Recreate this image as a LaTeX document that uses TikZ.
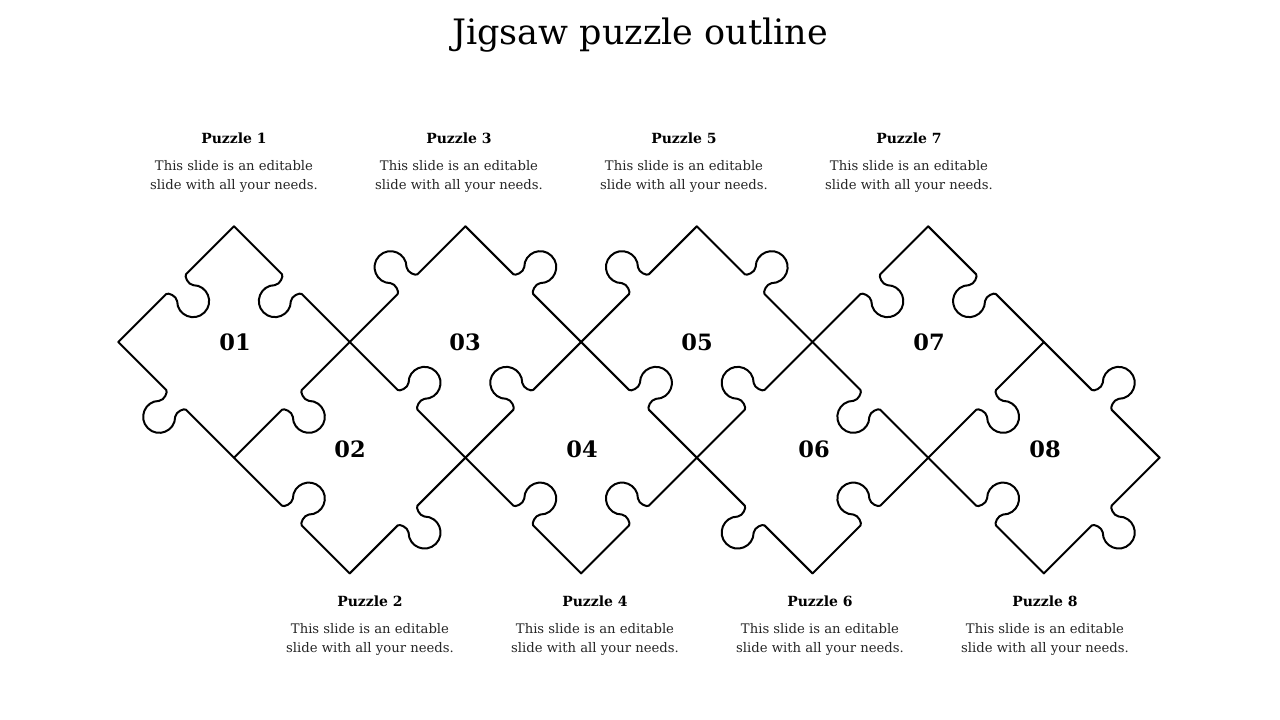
\documentclass[tikz,border=0pt]{standalone}
\usepackage{fontspec}
\setmainfont{DejaVu Serif}
\newcommand{\pzedge}[4]{%
  \begin{scope}[shift={(#1,#2)}, rotate=#3]
    \def\k{#4}
    \draw[puz] (0,0) -- (67.8,0) .. controls (70.3,0) and (73.8,\k*8.5) .. (70.5,\k*12.7)
      .. controls (60.4,\k*22.8) and (67.55,\k*40) .. (81.8,\k*40)
      .. controls (96.05,\k*40) and (103.2,\k*22.8) .. (93.1,\k*12.7)
      .. controls (89.8,\k*8.5) and (93.3,0) .. (95.8,0) -- (163.6,0);
  \end{scope}}
\begin{document}
\begin{tikzpicture}[x=1pt,y=-1pt,
  puz/.style={line width=2pt, line join=round, line cap=round, black},
  ttl/.style={font=\fontsize{35}{40}\selectfont, anchor=base, inner sep=0pt},
  phead/.style={font=\bfseries\fontsize{14}{16}\selectfont, anchor=base, inner sep=0pt},
  pbody/.style={font=\fontsize{13.2}{16}\selectfont, anchor=base, inner sep=0pt, text=black!85},
  pnum/.style={font=\bfseries\fontsize{22.5}{26}\selectfont, inner sep=0pt}]
\useasboundingbox (0,0) rectangle (1280,720);
\fill[white] (0,0) rectangle (1280,720);

% piece 1
\pzedge{118.3}{342}{45}{1}
\pzedge{234}{226.3}{-45}{1}
\pzedge{349.7}{342}{-135}{-1}
\pzedge{234}{457.7}{135}{-1}
% piece 2
\pzedge{349.7}{342}{-45}{-1}
\pzedge{465.4}{457.7}{-135}{-1}
\pzedge{349.7}{573.4}{135}{1}
% piece 3
\pzedge{349.7}{342}{45}{-1}
\pzedge{465.4}{226.3}{-45}{-1}
\pzedge{581.1}{342}{-135}{1}
% piece 4
\pzedge{581.1}{342}{-45}{-1}
\pzedge{696.8}{457.7}{-135}{1}
\pzedge{581.1}{573.4}{135}{1}
% piece 5
\pzedge{581.1}{342}{45}{-1}
\pzedge{696.8}{226.3}{-45}{-1}
\pzedge{812.5}{342}{-135}{1}
% piece 6
\pzedge{812.5}{342}{-45}{1}
\pzedge{928.2}{457.7}{-135}{1}
\pzedge{812.5}{573.4}{135}{-1}
% piece 7
\pzedge{812.5}{342}{45}{1}
\pzedge{928.2}{226.3}{-45}{1}
\pzedge{1043.9}{342}{-135}{-1}
% piece 8
\pzedge{1043.9}{342}{-45}{-1}
\pzedge{1159.6}{457.7}{-135}{-1}
\pzedge{1043.9}{573.4}{135}{1}

% numbers
\node[pnum] (n1) at (235,342) {01};
\node[pnum] (n2) at (350,449) {02};
\node[pnum] (n3) at (465,342) {03};
\node[pnum] (n4) at (582,449) {04};
\node[pnum] (n5) at (697,342) {05};
\node[pnum] (n6) at (814,449) {06};
\node[pnum] (n7) at (929,342) {07};
\node[pnum] (n8) at (1045,449) {08};

% title
\node[ttl] (title) at (640,44) {Jigsaw puzzle outline};

% top labels
\node[phead] (h1) at (234,143) {Puzzle 1};
\node[pbody] (b1a) at (234,170) {This slide is an editable};
\node[pbody] (b1b) at (234,189) {slide with all your needs.};
\node[phead] (h3) at (459,143) {Puzzle 3};
\node[pbody] (b3a) at (459,170) {This slide is an editable};
\node[pbody] (b3b) at (459,189) {slide with all your needs.};
\node[phead] (h5) at (684,143) {Puzzle 5};
\node[pbody] (b5a) at (684,170) {This slide is an editable};
\node[pbody] (b5b) at (684,189) {slide with all your needs.};
\node[phead] (h7) at (909,143) {Puzzle 7};
\node[pbody] (b7a) at (909,170) {This slide is an editable};
\node[pbody] (b7b) at (909,189) {slide with all your needs.};
% bottom labels
\node[phead] (h2) at (370,606) {Puzzle 2};
\node[pbody] (b2a) at (370,633) {This slide is an editable};
\node[pbody] (b2b) at (370,652) {slide with all your needs.};
\node[phead] (h4) at (595,606) {Puzzle 4};
\node[pbody] (b4a) at (595,633) {This slide is an editable};
\node[pbody] (b4b) at (595,652) {slide with all your needs.};
\node[phead] (h6) at (820,606) {Puzzle 6};
\node[pbody] (b6a) at (820,633) {This slide is an editable};
\node[pbody] (b6b) at (820,652) {slide with all your needs.};
\node[phead] (h8) at (1045,606) {Puzzle 8};
\node[pbody] (b8a) at (1045,633) {This slide is an editable};
\node[pbody] (b8b) at (1045,652) {slide with all your needs.};
\end{tikzpicture}
\end{document}
